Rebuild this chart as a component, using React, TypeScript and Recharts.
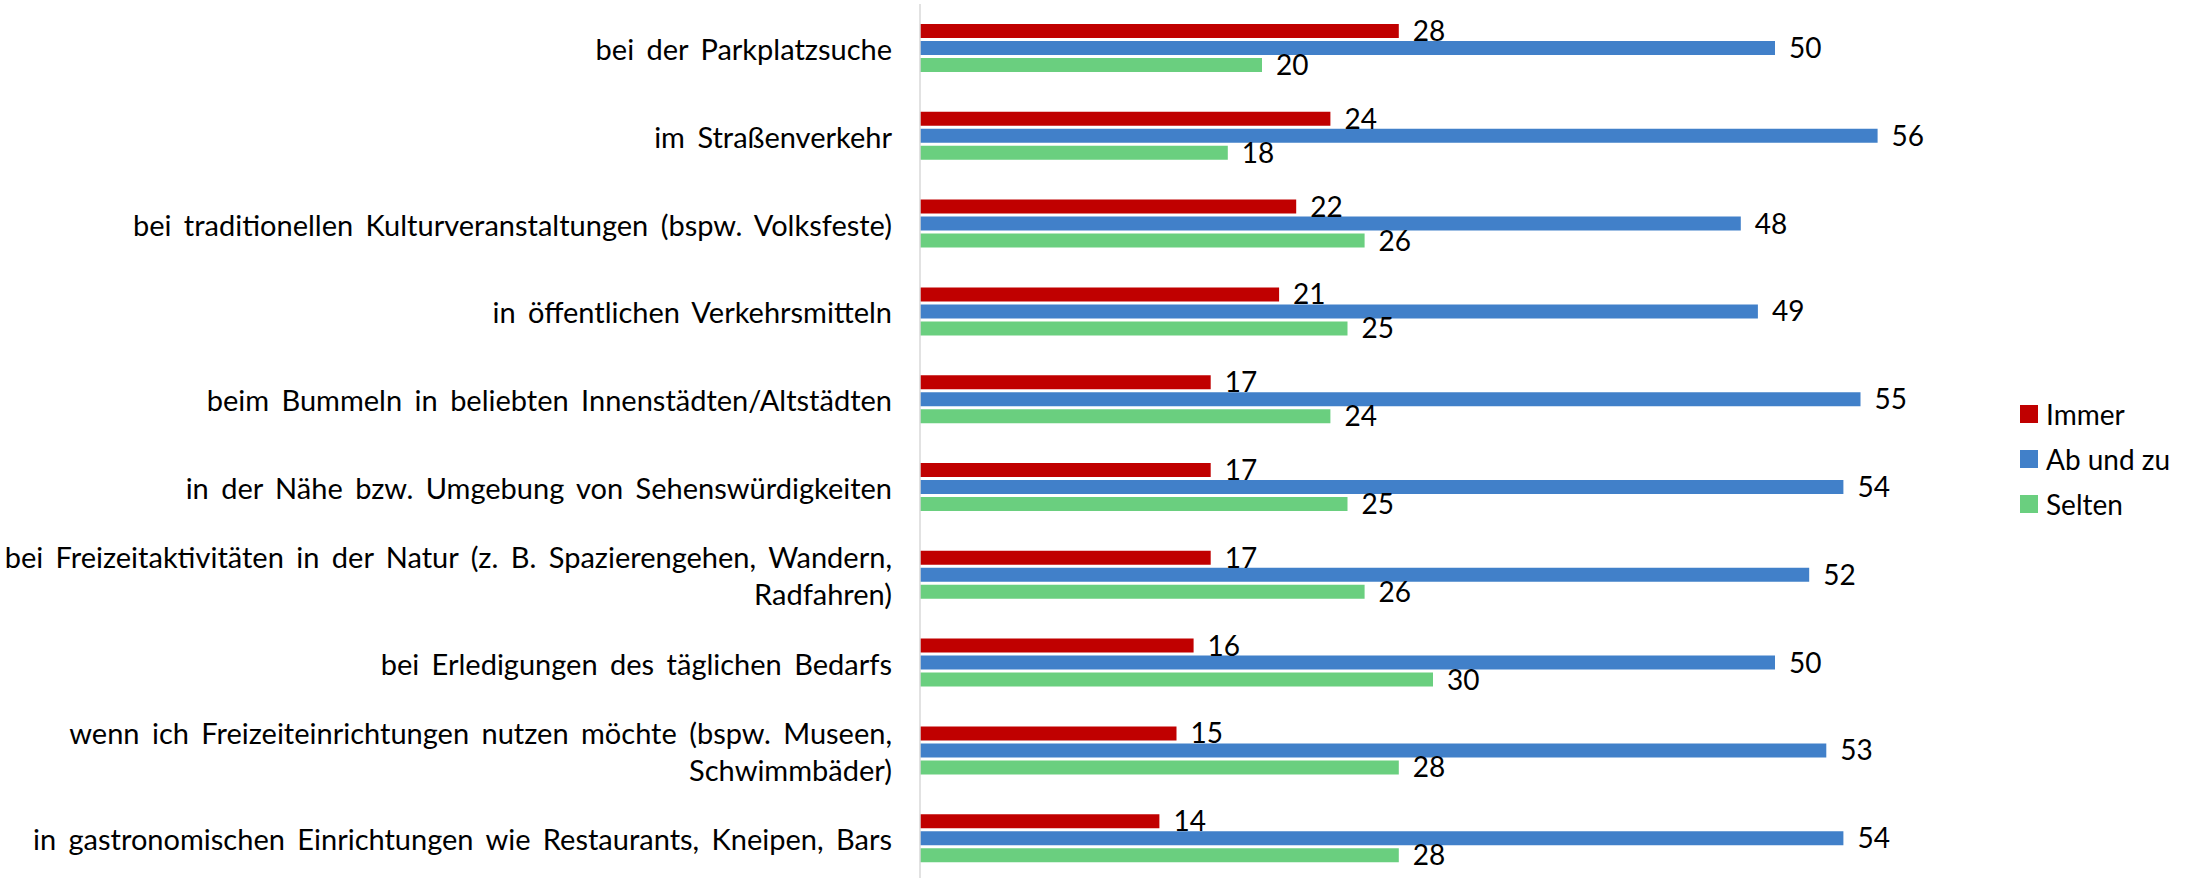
import React from "react";
import { BarChart, Bar, XAxis, YAxis, Legend, LabelList } from "recharts";

const categories = [
	"bei der Parkplatzsuche",
	"im Straßenverkehr",
	"bei traditionellen Kulturveranstaltungen (bspw. Volksfeste)",
	"in öffentlichen Verkehrsmitteln",
	"beim Bummeln in beliebten Innenstädten/Altstädten",
	"in der Nähe bzw. Umgebung von Sehenswürdigkeiten",
	"bei Freizeitaktivitäten in der Natur (z. B. Spazierengehen, Wandern,\nRadfahren)",
	"bei Erledigungen des täglichen Bedarfs",
	"wenn ich Freizeiteinrichtungen nutzen möchte (bspw. Museen,\nSchwimmbäder)",
	"in gastronomischen Einrichtungen wie Restaurants, Kneipen, Bars",
];
const immer = [28, 24, 22, 21, 17, 17, 17, 16, 15, 14];
const abUndZu = [50, 56, 48, 49, 55, 54, 52, 50, 53, 54];
const selten = [20, 18, 26, 25, 24, 25, 26, 30, 28, 28];

const seriesNames = ["Immer", "Ab und zu", "Selten"];
const colors = ["#C00000", "#4180C9", "#6ACF7F"];

const data = categories.map((name, i) => ({
	name,
	immer: immer[i],
	abUndZu: abUndZu[i],
	selten: selten[i],
}));

const FONT = "Lato, 'Open Sans', sans-serif";

function CategoryTick(props: any) {
	const { x, y, payload } = props;
	const lines: string[] = String(payload.value).split("\n");
	const lh = 36.5;
	const start = -((lines.length - 1) * lh) / 2;
	return (
		<text
			x={x - 20}
			y={y}
			textAnchor="end"
			dominantBaseline="central"
			fontFamily={FONT}
			fontSize={29}
			wordSpacing={5}
			fill="#000"
		>
			{lines.map((l, i) => (
				<tspan key={i} x={x - 20} dy={i === 0 ? start : lh}>
					{l}
				</tspan>
			))}
		</text>
	);
}

function renderLegend() {
	return (
		<div style={{ fontFamily: FONT, fontSize: 28, color: "#000", paddingLeft: 74 }}>
			{seriesNames.map((n, i) => (
				<div key={n} style={{ display: "flex", alignItems: "center", height: 45 }}>
					<span
						style={{
							display: "inline-block",
							width: 18,
							height: 18,
							background: colors[i],
							marginRight: 8,
						}}
					/>
					{n}
				</div>
			))}
		</div>
	);
}

export default function App() {
	return (
		<div
			style={{
				position: "fixed",
				left: 0,
				top: 0,
				width: 2200,
				height: 878,
				overflow: "hidden",
				background: "#fff",
			}}
		>
			<BarChart
				width={2200}
				height={882}
				data={data}
				layout="vertical"
				margin={{ top: 4, right: 0, bottom: 0, left: 0 }}
				barSize={14}
				barGap={3}
			>
				<XAxis type="number" domain={[0, 60]} hide />
				<YAxis
					type="category"
					dataKey="name"
					width={920}
					tickLine={false}
					axisLine={{ stroke: "#D9D9D9", strokeWidth: 1.5 }}
					tick={<CategoryTick />}
					interval={0}
				/>
				<Legend
					content={renderLegend}
					layout="vertical"
					align="right"
					verticalAlign="middle"
					wrapperStyle={{ width: 254, top: 391 }}
				/>
				<Bar dataKey="immer" name="Immer" fill={colors[0]} isAnimationActive={false}>
					<LabelList dataKey="immer" position="right" offset={14} fill="#000" fontSize={28} fontFamily={FONT} />
				</Bar>
				<Bar dataKey="abUndZu" name="Ab und zu" fill={colors[1]} isAnimationActive={false}>
					<LabelList dataKey="abUndZu" position="right" offset={14} fill="#000" fontSize={28} fontFamily={FONT} />
				</Bar>
				<Bar dataKey="selten" name="Selten" fill={colors[2]} isAnimationActive={false}>
					<LabelList dataKey="selten" position="right" offset={14} fill="#000" fontSize={28} fontFamily={FONT} />
				</Bar>
			</BarChart>
		</div>
	);
}
